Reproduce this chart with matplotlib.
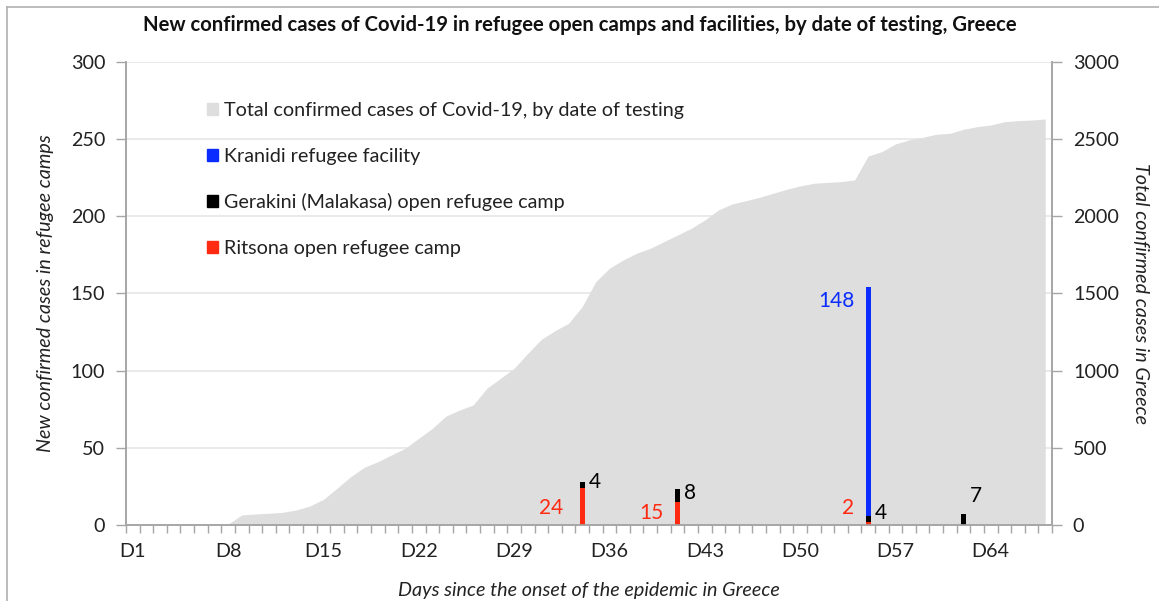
import matplotlib.pyplot as plt
from matplotlib.lines import Line2D
from matplotlib.patches import Patch

plt.rcParams['font.family'] = ['Lato', 'DejaVu Sans']

# days D1..D68
days = list(range(1, 69))
day_labels = ['D%d' % d for d in days]

# total confirmed cases in Greece (right axis)
total_cases = [0, 0, 0, 0, 0, 0, 0, 5, 65, 71, 76, 82, 97, 123, 166, 238, 313, 374,
               410, 454, 497, 562, 626, 706, 745, 778, 886, 950, 1015, 1112, 1203,
               1259, 1307, 1415, 1577, 1663, 1717, 1761, 1793, 1836, 1879, 1922, 1976,
               2041, 2080, 2101, 2123, 2149, 2175, 2197, 2214, 2220, 2225, 2236, 2391,
               2419, 2469, 2495, 2512, 2532, 2538, 2564, 2581, 2592, 2613, 2620, 2624,
               2631]

# new cases in refugee camps (left axis)
ritsona_days = [34, 41, 55]
ritsona_cases = [24, 15, 2]
gerakini_days = [34, 41, 55, 62]
gerakini_cases = [4, 8, 4, 7]
kranidi_days = [55]
kranidi_cases = [148]

C_AREA = '#dedede'
C_BLUE = '#0a2cff'
C_RED = '#ff2a12'
C_BLACK = '#000000'
C_AXIS = '#a6a6a6'
C_TEXT = '#222222'
FS = 14.2

fig = plt.figure(figsize=(11.59, 6.01), dpi=100)
ax = fig.add_axes([0.1087, 0.1265, 0.7990, 0.7703])
ax2 = ax.twinx()

# area on the secondary axis, bars on top of it
ax.set_zorder(ax2.get_zorder() + 1)
ax.patch.set_visible(False)

for y in range(50, 301, 50):
    ax2.axhline(y * 10, color='#e6e6e6', lw=1.2, zorder=0)
ax2.fill_between(days, total_cases, 0, color=C_AREA, lw=0, zorder=1)
ax2.set_ylim(0, 3000)
ax2.set_yticks(range(0, 3001, 500))

w = 0.36
rit_lookup = dict(zip(ritsona_days, ritsona_cases))
ger_lookup = dict(zip(gerakini_days, gerakini_cases))
ax.bar(ritsona_days, ritsona_cases, width=w, color=C_RED, lw=0)
ax.bar(gerakini_days, gerakini_cases, width=w, color=C_BLACK, lw=0,
       bottom=[rit_lookup.get(d, 0) for d in gerakini_days])
ax.bar(kranidi_days, kranidi_cases, width=w, color=C_BLUE, lw=0,
       bottom=[rit_lookup.get(d, 0) + ger_lookup.get(d, 0) for d in kranidi_days])

ax.set_ylim(0, 300)
ax.set_xlim(0.5, 68.5)
ax.set_yticks(range(0, 301, 50))

# value labels
fs = 15
ax.text(34 - 1.4, 11, '24', color=C_RED, fontsize=fs, ha='right', va='center')
ax.text(34 + 0.45, 28, '4', color=C_BLACK, fontsize=fs, ha='left', va='center')
ax.text(41 - 1.0, 8, '15', color=C_RED, fontsize=fs, ha='right', va='center')
ax.text(41 + 0.45, 21, '8', color=C_BLACK, fontsize=fs, ha='left', va='center')
ax.text(55 - 1.0, 11, '2', color=C_RED, fontsize=fs, ha='right', va='center')
ax.text(55 + 0.5, 8, '4', color=C_BLACK, fontsize=fs, ha='left', va='center')
ax.text(55 - 1.0, 145, '148', color=C_BLUE, fontsize=fs, ha='right', va='center')
ax.text(62 + 0.5, 19, '7', color=C_BLACK, fontsize=fs, ha='left', va='center')

# x axis: labels every 7 days, ticks between categories
ax.set_xticks(days[::7])
ax.set_xticklabels(day_labels[::7])
ax.set_xticks([d + 0.5 for d in range(0, 69)], minor=True)
ax.tick_params(axis='x', which='major', length=0, pad=13, labelsize=FS, colors=C_TEXT)
ax.tick_params(axis='x', which='minor', length=6, width=1, color=C_AXIS, direction='out')
ax.tick_params(axis='y', length=7, width=1, color=C_AXIS, labelsize=FS,
               labelcolor=C_TEXT, pad=8)
ax2.tick_params(axis='y', length=7, width=1, color=C_AXIS, labelsize=FS,
                labelcolor=C_TEXT, pad=8)

for a in (ax, ax2):
    a.spines['top'].set_visible(False)
    for s in ('left', 'right', 'bottom'):
        a.spines[s].set_color(C_AXIS)
        a.spines[s].set_linewidth(1.2)

ax.set_ylabel('New confirmed cases in refugee camps', fontsize=FS, style='italic',
              color=C_TEXT, labelpad=12)
ax2.set_ylabel('Total confirmed cases in Greece', fontsize=FS, style='italic',
               color=C_TEXT, rotation=270, labelpad=22)
ax.set_xlabel('Days since the onset of the epidemic in Greece', fontsize=FS,
              style='italic', color=C_TEXT, labelpad=16)

fig.text(0.5, 0.958, 'New confirmed cases of Covid-19 in refugee open camps and facilities, '
         'by date of testing, Greece', ha='center', va='center', fontsize=14.6,
         fontweight='bold', color='#111111')

handles = [Patch(color=C_AREA), Patch(color=C_BLUE), Patch(color=C_BLACK), Patch(color=C_RED)]
labels = ['Total confirmed cases of Covid-19, by date of testing',
          'Kranidi refugee facility',
          'Gerakini (Malakasa) open refugee camp',
          'Ritsona open refugee camp']
ax.legend(handles, labels, loc='upper left', bbox_to_anchor=(0.068, 0.952), frameon=False,
          fontsize=FS, handlelength=0.55, handleheight=0.55, handletextpad=0.35,
          labelspacing=1.45, labelcolor=C_TEXT)

# frame lines of the original figure box (top and left only)
fig.add_artist(Line2D([0.006, 1.0], [0.989, 0.989], color='#b0b0b0', lw=1.2))
fig.add_artist(Line2D([0.006, 0.006], [0.0, 0.989], color='#b0b0b0', lw=1.2))

fig.savefig('out.png', dpi=100)
